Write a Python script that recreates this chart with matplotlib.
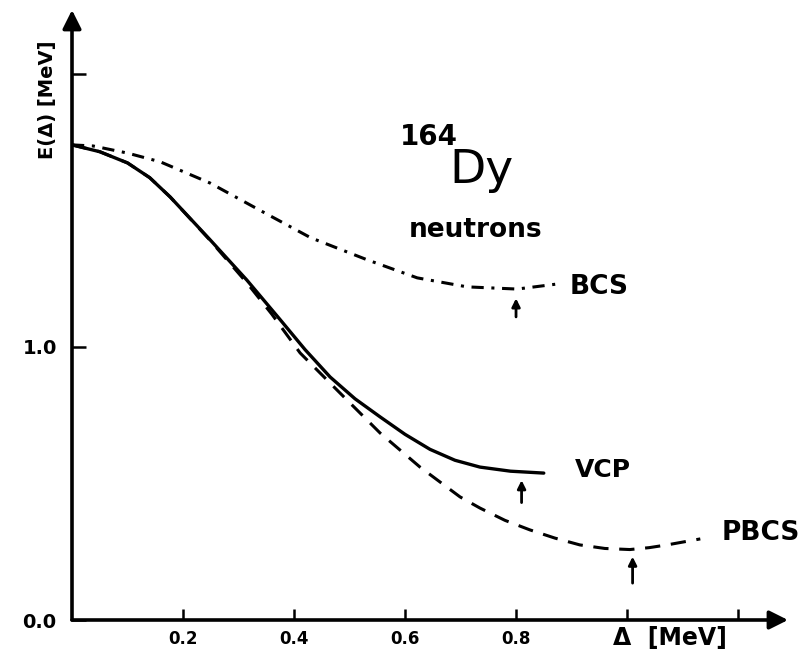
import matplotlib.pyplot as plt

# curves (Delta in MeV, E in MeV)
vcp_x = [0.0, 0.05, 0.10, 0.14, 0.177, 0.249, 0.315, 0.375, 0.42, 0.465, 0.51, 0.555, 0.60, 0.645, 0.69, 0.735, 0.79, 0.85]
vcp_y = [1.74, 1.715, 1.674, 1.62, 1.549, 1.392, 1.245, 1.10, 0.99, 0.89, 0.81, 0.744, 0.68, 0.625, 0.585, 0.56, 0.545, 0.538]

pbcs_x = [0.0, 0.05, 0.10, 0.14, 0.177, 0.249, 0.315, 0.36, 0.411, 0.483, 0.555, 0.627, 0.699, 0.735, 0.78, 0.825,
          0.87, 0.915, 0.96, 1.005, 1.04, 1.072, 1.132]
pbcs_y = [1.74, 1.715, 1.674, 1.62, 1.549, 1.39, 1.235, 1.12, 0.978, 0.831, 0.685, 0.56, 0.451, 0.41, 0.365, 0.33,
          0.30, 0.275, 0.262, 0.258, 0.265, 0.275, 0.297]

bcs_x = [0.0, 0.038, 0.10, 0.159, 0.249, 0.339, 0.43, 0.532, 0.622, 0.712, 0.802, 0.88]
bcs_y = [1.74, 1.736, 1.71, 1.678, 1.60, 1.50, 1.40, 1.319, 1.253, 1.22, 1.212, 1.232]

# minimum markers (x, arrow bottom, arrow top)
minima = [(0.80, 1.11, 1.178), (0.81, 0.43, 0.512), (1.01, 0.135, 0.232)]

xticks = [0.2, 0.4, 0.6, 0.8, 1.0, 1.2]
xticklabels = ["0.2", "0.4", "0.6", "0.8", "", ""]
yticks = [0.0, 1.0, 2.0]
yticklabels = ["0.0", "1.0", ""]

plt.rcParams['font.family'] = 'DejaVu Sans'
plt.rcParams['font.weight'] = 'bold'

fig = plt.figure(figsize=(8.04, 6.54), dpi=100)
ax = fig.add_axes([72/804, 34/654, 716/804, 610/654])
ax.set_xlim(0, 1.29)
ax.set_ylim(0, 2.234)
for s in ax.spines.values():
    s.set_visible(False)

# axes with arrow heads
ax.annotate("", xy=(1.29, 0), xytext=(0, 0), annotation_clip=False,
            arrowprops=dict(arrowstyle="-|>", lw=2.6, color="black", mutation_scale=28, shrinkA=0, shrinkB=0))
ax.annotate("", xy=(0, 2.234), xytext=(0, 0), annotation_clip=False,
            arrowprops=dict(arrowstyle="-|>", lw=2.6, color="black", mutation_scale=28, shrinkA=0, shrinkB=0))

ax.plot(vcp_x, vcp_y, color="black", lw=2.4, solid_capstyle="round")
ax.plot(pbcs_x, pbcs_y, color="black", lw=2.2, dashes=(5, 3.5))
ax.plot(bcs_x, bcs_y, color="black", lw=2.2, dashes=(4, 2.5, 1, 2.5))

for x, y0, y1 in minima:
    ax.annotate("", xy=(x, y1), xytext=(x, y0),
                arrowprops=dict(arrowstyle="-|>", lw=2.0, color="black", mutation_scale=12, shrinkA=0, shrinkB=0))

ax.set_xticks(xticks)
ax.set_xticklabels(xticklabels, fontsize=12, fontweight="bold")
ax.set_yticks(yticks)
ax.set_yticklabels(yticklabels, fontsize=14, fontweight="bold")
ax.tick_params(axis="x", direction="in", length=8, width=1.8, pad=7)
ax.tick_params(axis="y", direction="in", length=10, width=1.8, pad=11)

ax.text(-0.045, 1.905, "E(Δ) [MeV]", rotation=90, ha="center", va="center", fontsize=14, fontweight="bold")
ax.text(0.975, -0.066, "Δ  [MeV]", ha="left", va="center", fontsize=17, fontweight="bold")

ax.text(0.591, 1.74, "164", ha="left", va="baseline", fontsize=20, fontweight="bold")
ax.text(0.68, 1.60, "Dy", ha="left", va="baseline", fontsize=34, fontweight="normal")
ax.text(0.727, 1.43, "neutrons", ha="center", va="center", fontsize=19, fontweight="bold")

ax.text(0.897, 1.22, "BCS", ha="left", va="center", fontsize=19, fontweight="bold")
ax.text(0.906, 0.55, "VCP", ha="left", va="center", fontsize=18, fontweight="bold")
ax.text(1.171, 0.32, "PBCS", ha="left", va="center", fontsize=19, fontweight="bold")

fig.savefig("out.png", dpi=100)
